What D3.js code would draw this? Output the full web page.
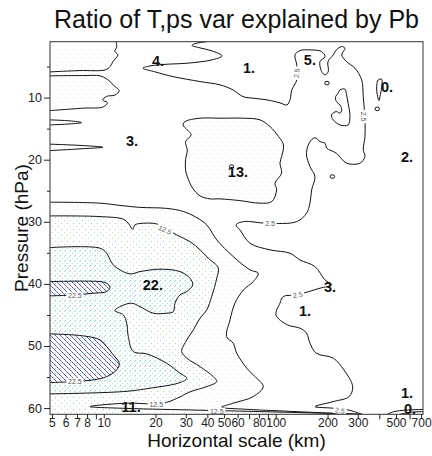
<!DOCTYPE html>
<html>
<head>
<meta charset="UTF-8">
<title>Ratio of T,ps var explained by Pb</title>
<style>
body { margin: 0; background: #fff; }
svg text { font-family: "Liberation Sans", Arial, sans-serif; }
.tick text { font-size: 12px; fill: #222; }
.yaxis .tick text { font-size: 12.5px; }
.tick line { stroke: #222; }
.contour { fill: none; stroke: #111; stroke-width: 1px; }
.clabel { font-size: 7px; fill: #555; }
.vlabel { font-size: 14.5px; font-weight: bold; fill: #111; }
</style>
</head>
<body>
<div class="chart"></div>
<script src="https://cdn.jsdelivr.net/npm/d3@7/dist/d3.min.js"></script>
<script>
// axis data
const xExtent = [4.87, 718];
const pExtent = [1, 61];
const xMajor = [5, 6, 7, 8, 10, 20, 30, 40, 50, 60, 80, 100, 200, 300, 500, 700];
const xMinor = [9, 70, 90, 400, 600];
const yMajor = [10, 20, 30, 40, 50, 60];
const yMinor = [5, 15, 25, 35, 45, 55];

// contours, [scale km, pressure hPa]
// 7.5
const c75TopLeft = [[4.87,5.86],[7.27,5.65],[10.2,5.54],[10.9,5.0],[11.3,4.2],[12.1,3.1],[11.6,2.6],[11.9,1.8],[11.8,1.0]];
const c75Band = [[4.87,6.5],[7.6,6.45],[9.5,6.5],[10.4,7.0],[11.6,8.2],[12.3,8.9],[11.6,9.6],[10.4,9.8],[9.86,10.4],[10.5,10.8],[9.93,11.5],[7.6,11.7],[4.87,12.1]];
const c75Spike1 = [[4.87,13.59],[6.36,13.75],[7.44,14.03],[6.36,14.24],[4.87,14.4]];
const c75Spike2 = [[4.87,17.5],[7.27,17.7],[9.86,17.99],[7.27,18.26],[4.87,18.53]];
const c75Blob = [[47.4,13.32],[64.9,13.32],[81,13.59],[92.6,14.67],[103.9,16.28],[110.9,17.62],[108.2,19.5],[105.8,20.56],[108.2,22.17],[99,23.78],[101.2,24.86],[94.8,26.75],[81,27.0],[61.9,26.59],[47.4,26.31],[41.5,26.31],[36.3,25.83],[32.8,24.54],[30.6,22.72],[29.9,21.64],[29.9,20.03],[30.6,18.42],[29.9,17.09],[32.2,16.0],[30.6,15.2],[28.9,14.4],[29.7,13.86],[36.3,13.32]];
const c75Lower = [[4.87,26.84],[9.51,27.0],[12.43,27.36],[16.24,27.68],[23.2,27.84],[29.0,28.33],[33.9,29.16],[39.7,30.5],[45.4,32.91],[56.6,35.6],[70.8,37.74],[79.1,38.28],[74.0,39.63],[64.9,40.97],[57.9,43.11],[54.2,45.8],[51.8,48.49],[56.6,49.55],[59.3,51.16],[67.8,53.57],[75.7,54.93],[84.6,56.54],[74.0,58.15],[56.6,59.21],[48.5,59.86],[66.2,60.18],[105.8,60.45],[180.8,60.74],[317,61]];
// 12.5
const c125 = [[4.87,29.05],[9.51,29.16],[12.99,29.58],[13.89,30.23],[14.73,31.19],[15.19,30.5],[16.98,30.23],[20.3,30.34],[22.7,30.98],[26.5,32.11],[31.7,33.19],[36.3,34.52],[40.5,35.86],[46.3,37.42],[45.4,39.08],[42.4,42.05],[39.7,44.19],[36.3,45.52],[33.2,47.41],[30.4,49.02],[28.4,50.9],[30.4,51.96],[36.3,53.32],[43.3,54.93],[45.4,55.73],[39.7,56.54],[31.7,57.39],[27.75,58.2],[23.2,59.08],[19.86,59.32],[13.6,59.21],[8.32,59.76],[13.6,60.05],[36.3,60.34],[105.8,60.64],[317,61]];
// 17.5
const c175 = [[4.87,34.15],[9.51,34.25],[10.4,35.06],[11.36,36.94],[14.21,38.39],[16.24,38.02],[21.23,37.63],[27.75,38.02],[31.72,39.08],[32.9,40.16],[30.4,41.24],[27.75,41.77],[25.95,43.11],[25.4,44.46],[23.2,44.72],[19.4,44.72],[16.24,43.66],[14.54,43.11],[12.72,43.54],[11.62,44.3],[12.99,44.99],[13.6,46.33],[13.89,48.49],[14.85,50.9],[17.77,51.27],[23.2,52.77],[27.75,54.38],[30.4,55.19],[27.75,55.89],[18.57,56.8],[12.99,57.34],[4.87,57.71]];
// 22.5
const c225a = [[4.87,39.63],[9.51,39.63],[10.4,39.89],[10.87,40.53],[10.4,41.24],[8.69,41.5],[6.8,41.77],[4.87,41.93]];
const c225b = [[4.87,48.05],[7.6,48.37],[9.51,49.01],[10.4,50.1],[11.36,51.43],[12.31,52.77],[11.89,53.85],[10.4,54.93],[8.69,55.46],[6.8,55.73],[4.87,55.89]];
// 2.5
const c25Main = [[39.8,1],[34.4,1.27],[32.6,1.59],[36.3,2.0],[42.6,2.48],[48.7,3.29],[42.6,3.93],[36.3,4.25],[29.7,4.49],[22.7,4.65],[18.6,4.9],[16.9,5.27],[19.9,5.86],[25.3,6.62],[36.3,7.42],[47.4,7.95],[56.4,8.76],[64.5,9.84],[75.7,10.13],[88.9,10.37],[105.8,10.85],[116.2,11.18],[121,10.37],[124,8.76],[132.5,7.15],[132.5,4.73],[129.4,3.12],[138.3,2.43],[158.1,2.32],[184.8,2.59],[193.3,3.4],[180.8,4.2],[184.8,5.81],[193.3,6.34],[202,5.81],[201.2,4.2],[216,3.12],[225,2.32],[242,1.79],[252.6,2.05],[242,3.12],[258,4.2],[288.8,5.27],[316,7.15],[322.7,9.84],[330.2,13.59],[330.2,16.28],[322.7,18.42],[330.2,19.5],[308.8,20.56],[258,20.56],[225,18.95],[198,18.15],[193.3,17.34],[180.8,17.09],[172,16.54],[165.5,16.54],[154.6,17.62],[151,19.23],[158.1,21.11],[169,22.72],[161.7,24.86],[158.1,27.0],[151,28.62],[132.5,29.97],[88.5,30.23],[64.9,29.97],[58.8,30.5],[61.9,31.3],[70.8,33.45],[92.6,34.52],[121,35.06],[138.3,36.14],[169,37.21],[193.3,39.35],[211,40.16],[180.8,40.69],[132.5,41.77],[110.5,42.04],[105.8,43.11],[100.3,45.0],[117,46.6],[138.3,47.13],[151,47.94],[158.1,49.55],[172,51.16],[216,51.96],[249,53.85],[280,56.54],[267,58.15],[216,58.95],[169,59.76],[216,60.02],[270,60.37],[317,61]];
const c25Loop3 = [[236.3,8.76],[252.6,8.65],[258,9.57],[263.5,10.9],[270,13.06],[263.5,14.4],[236.3,14.4],[216,13.59],[211,12.79],[225,12.25],[236.3,12.51],[242,11.98],[236.3,11.18],[225,10.64],[223,9.84],[230.5,9.29]];
const c25Loop0 = [[394.5,7.15],[412.9,7.04],[412.9,8.23],[403.6,9.84],[398.2,10.48],[391.3,9.84],[386,8.23]];
const c25BottomA = [[441.6,61],[493.4,60.53],[564,60.34],[718,60.21]];
const c25BottomB = [[527.6,61],[603,60.69],[718,60.56]];
const tinyLoops = [[198.5,7.67],[213.5,22.72],[389.2,11.82],[55.4,21.11]];

// value labels and contour labels
const valueLabels = [
  {t: '4.', km: 20.7, p: 4.09}, {t: '1.', km: 69.9, p: 5.22}, {t: '5.', km: 158, p: 3.93},
  {t: '0.', km: 443, p: 8.28}, {t: '3.', km: 14.6, p: 16.97}, {t: '13.', km: 60.3, p: 21.97},
  {t: '2.', km: 579, p: 19.55}, {t: '22.', km: 19.3, p: 40.16}, {t: '3.', km: 206.6, p: 40.5},
  {t: '1.', km: 147.9, p: 44.35}, {t: '11.', km: 14.4, p: 59.8}, {t: '1.', km: 579, p: 57.55},
  {t: '0.', km: 603, p: 60.15}
];
const contourLabels = [
  {t: '2.5', km: 132.5, p: 6.07, r: -85}, {t: '2.5', km: 322.7, p: 13.06, r: 90},
  {t: '2.5', km: 92.6, p: 30.34, r: 0}, {t: '2.5', km: 134.2, p: 41.77, r: -12},
  {t: '2.5', km: 236, p: 60.4, r: 8}, {t: '12.5', km: 22.7, p: 31.3, r: 25},
  {t: '12.5', km: 20.2, p: 59.4, r: 0}, {t: '12.5', km: 45.4, p: 60.5, r: 0},
  {t: '22.5', km: 6.8, p: 41.9, r: 0}, {t: '22.5', km: 6.8, p: 55.7, r: 0}
];

let width = 432, height = 456;
let mLeft = 50, mRight = 423, mTop = 41.7, mBottom = 414.3;

let svg = d3.select('.chart').append('svg')
    .attr('width', width)
    .attr('height', height);

let x = d3.scaleLog().domain(xExtent).range([mLeft, mRight]);
let y = d3.scaleLinear().domain(pExtent).range([mTop, mBottom]);

let defs = svg.append('defs');
defs.append('clipPath').attr('id', 'plotClip')
    .append('rect')
    .attr('x', mLeft).attr('y', mTop)
    .attr('width', mRight - mLeft).attr('height', mBottom - mTop);

function dotPattern(id, size, dots) {
    let p = defs.append('pattern')
        .attr('id', id)
        .attr('patternUnits', 'userSpaceOnUse')
        .attr('width', size).attr('height', size);
    p.append('rect').attr('width', size).attr('height', size).attr('fill', '#fff');
    dots.forEach(d => {
        p.append('rect').attr('x', d[0]).attr('y', d[1])
            .attr('width', 1).attr('height', 1).attr('fill', d[2]);
    });
    return p;
}
dotPattern('fillGray', 8, [[1, 1, '#d8d8d8'], [5, 5, '#e4e4e4']]);
dotPattern('fillGreen', 6, [[1, 1, '#9ade9a'], [4, 4, '#b4eab4']]);
dotPattern('fillCyan', 5, [[0, 0, '#6adce6'], [2, 3, '#a8e8b0'], [4, 1, '#9ae6ec']]);
dotPattern('fillBlue', 5, [[0, 0, '#4646e8'], [1, 1, '#7c7cf0'], [2, 2, '#4646e8'], [3, 3, '#7c7cf0'], [4, 4, '#4646e8'], [0, 3, '#88e2ea']]);

let line = d3.line()
    .x(d => x(d[0]))
    .y(d => y(d[1]))
    .curve(d3.curveCatmullRom.alpha(0.5));

let loop = d3.line()
    .x(d => x(d[0]))
    .y(d => y(d[1]))
    .curve(d3.curveCatmullRomClosed.alpha(0.5));

// contour path plus straight legs along the frame
function region(points, corners) {
    let s = line(points);
    corners.forEach(c => { s += 'L' + x(c[0]) + ',' + y(c[1]); });
    return s + 'Z';
}

let plot = svg.append('g').attr('clip-path', 'url(#plotClip)');

plot.append('rect')
    .attr('x', mLeft).attr('y', mTop)
    .attr('width', mRight - mLeft).attr('height', mBottom - mTop)
    .attr('fill', '#fff');

let xMin = xExtent[0], pTop = pExtent[0], pBot = pExtent[1];

// fills, low to high
plot.append('path').attr('d', region(c75TopLeft, [[xMin, pTop]])).attr('fill', 'url(#fillGray)');
plot.append('path').attr('d', region(c75Band, [])).attr('fill', 'url(#fillGray)');
plot.append('path').attr('d', loop(c75Blob)).attr('fill', 'url(#fillGray)');
plot.append('path').attr('d', region(c75Lower, [[xMin, pBot]])).attr('fill', 'url(#fillGray)');
plot.append('path').attr('d', region(c125, [[xMin, pBot]])).attr('fill', 'url(#fillGreen)');
plot.append('path').attr('d', region(c175, [])).attr('fill', 'url(#fillCyan)');
plot.append('path').attr('d', region(c225a, [])).attr('fill', 'url(#fillBlue)');
plot.append('path').attr('d', region(c225b, [])).attr('fill', 'url(#fillBlue)');

// contour lines
[c75TopLeft, c75Band, c75Spike1, c75Spike2, c75Lower, c125, c175, c225a, c225b, c25Main, c25BottomA, c25BottomB]
    .forEach(c => plot.append('path').attr('class', 'contour').attr('d', line(c)));
[c75Blob, c25Loop3, c25Loop0]
    .forEach(c => plot.append('path').attr('class', 'contour').attr('d', loop(c)));
plot.selectAll('.tiny').data(tinyLoops).enter().append('ellipse')
    .attr('class', 'contour')
    .attr('cx', d => x(d[0])).attr('cy', d => y(d[1]))
    .attr('rx', 2.2).attr('ry', 1.8);

// contour labels
let cl = plot.selectAll('.cl').data(contourLabels).enter().append('g')
    .attr('transform', d => 'translate(' + x(d.km) + ',' + y(d.p) + ') rotate(' + d.r + ')');
cl.append('rect')
    .attr('x', d => -d.t.length * 1.9 - 1).attr('y', -3.5)
    .attr('width', d => d.t.length * 3.8 + 2).attr('height', 7)
    .attr('fill', '#fff');
cl.append('text').attr('class', 'clabel')
    .attr('text-anchor', 'middle').attr('dy', '0.35em')
    .text(d => d.t);

// value labels
plot.selectAll('.vl').data(valueLabels).enter().append('text')
    .attr('class', 'vlabel')
    .attr('x', d => x(d.km)).attr('y', d => y(d.p))
    .attr('text-anchor', 'middle').attr('dy', '0.35em')
    .text(d => d.t);

// frame
svg.append('rect')
    .attr('x', mLeft).attr('y', mTop)
    .attr('width', mRight - mLeft).attr('height', mBottom - mTop)
    .attr('fill', 'none').attr('stroke', '#333').attr('stroke-width', 1);

// axes
svg.append('g')
    .attr('class', 'xaxis')
    .attr('transform', 'translate(0,' + mBottom + ')')
    .call(d3.axisBottom(x).tickValues(xMajor).tickFormat(d3.format('d')).tickSize(4).tickPadding(0))
    .call(g => g.select('.domain').remove())
    .call(g => g.selectAll('.tick text').attr('dy', '0.7em'));
svg.append('g')
    .attr('transform', 'translate(0,' + mBottom + ')')
    .call(d3.axisBottom(x).tickValues(xMinor).tickFormat('').tickSize(5))
    .call(g => g.select('.domain').remove());
svg.append('g')
    .attr('class', 'yaxis')
    .attr('transform', 'translate(' + mLeft + ',0)')
    .call(d3.axisLeft(y).tickValues(yMajor).tickSize(6).tickPadding(2))
    .call(g => g.select('.domain').remove());
svg.append('g')
    .attr('transform', 'translate(' + mLeft + ',0)')
    .call(d3.axisLeft(y).tickValues(yMinor).tickFormat('').tickSize(3))
    .call(g => g.select('.domain').remove());

svg.selectAll('.tick text').attr('font-family', null);

// titles
svg.append('text')
    .attr('x', (mLeft + mRight) / 2).attr('y', 28)
    .attr('text-anchor', 'middle')
    .style('font-size', '25px').style('fill', '#111')
    .text('Ratio of T,ps var explained by Pb');
svg.append('text')
    .attr('x', (mLeft + mRight) / 2).attr('y', 447)
    .attr('text-anchor', 'middle')
    .style('font-size', '19px').style('fill', '#111')
    .text('Horizontal scale (km)');
svg.append('text')
    .attr('transform', 'translate(28,' + (mTop + mBottom) / 2 + ') rotate(-90)')
    .attr('text-anchor', 'middle')
    .style('font-size', '19px').style('fill', '#111')
    .text('Pressure (hPa)');
</script>
</body>
</html>
